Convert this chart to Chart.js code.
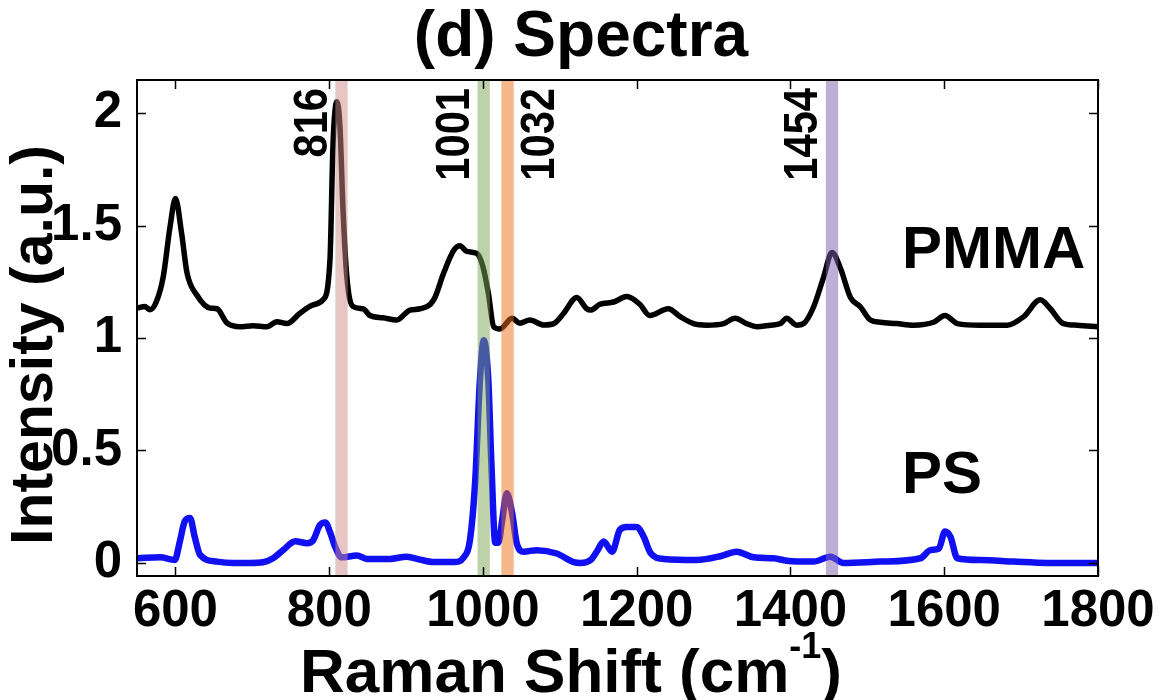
<!DOCTYPE html>
<html>
<head>
<meta charset="utf-8">
<title>Spectra</title>
<script src="https://cdn.jsdelivr.net/npm/chart.js@4.4.1/dist/chart.umd.min.js"></script>
<style>
  html, body { margin: 0; padding: 0; background: #ffffff; }
  #wrap { width: 1162px; height: 700px; }
</style>
</head>
<body>
<div id="wrap"><canvas id="spectra" width="1162" height="700"></canvas></div>
<script>
// Raman spectra (intensity in arbitrary units, PMMA offset by +1)
const pmmaShift = [551, 560, 567, 575, 584, 593, 600, 608, 615, 628, 645, 654, 667, 684, 701, 719, 732, 745, 762, 779,
  792, 801, 805, 810, 814, 818, 823, 831, 844, 853, 870, 888, 905, 918, 936, 949, 962, 970, 979, 992,
  1000, 1007, 1014, 1022, 1038, 1048, 1061, 1079, 1092, 1105, 1122, 1135, 1140, 1152, 1170, 1187, 1204, 1217, 1241, 1257,
  1274, 1291, 1313, 1328, 1343, 1356, 1374, 1387, 1395, 1408, 1417, 1430, 1443, 1454, 1465, 1478, 1491, 1504, 1517, 1538,
  1560, 1586, 1601, 1617, 1647, 1682, 1703, 1725, 1738, 1755, 1773, 1800];
const pmmaIntensity = [1.133, 1.14, 1.126, 1.16, 1.27, 1.495, 1.62, 1.466, 1.29, 1.19, 1.133, 1.13, 1.067, 1.05, 1.055, 1.05, 1.072, 1.064, 1.11, 1.147,
  1.17, 1.347, 1.865, 2.05, 1.94, 1.57, 1.27, 1.14, 1.13, 1.10, 1.09, 1.08, 1.124, 1.13, 1.17, 1.29, 1.39, 1.41, 1.385, 1.376,
  1.317, 1.2, 1.05, 1.04, 1.088, 1.066, 1.08, 1.058, 1.064, 1.11, 1.18, 1.13, 1.124, 1.15, 1.16, 1.184, 1.15, 1.10, 1.13, 1.094,
  1.064, 1.057, 1.064, 1.088, 1.064, 1.05, 1.057, 1.064, 1.088, 1.057, 1.064, 1.138, 1.27, 1.38, 1.31, 1.18, 1.138, 1.08, 1.07, 1.064,
  1.057, 1.07, 1.10, 1.064, 1.057, 1.057, 1.094, 1.17, 1.13, 1.064, 1.057, 1.05];

const psShift = [551, 580, 599, 606, 612, 619, 625, 632, 654, 675, 697, 714, 727, 740, 756, 771, 779, 788, 795, 801,
  808, 816, 836, 849, 879, 901, 918, 936, 962, 975, 983, 990, 996, 1001, 1007, 1011, 1016, 1020, 1025, 1031,
  1038, 1044, 1053, 1070, 1096, 1118, 1127, 1140, 1148, 1157, 1168, 1178, 1187, 1200, 1209, 1218, 1235, 1278, 1309, 1330,
  1352, 1378, 1395, 1430, 1452, 1469, 1517, 1569, 1582, 1593, 1601, 1608, 1617, 1647, 1690, 1734, 1800];
const psIntensity = [0.021, 0.025, 0.013, 0.10, 0.184, 0.2, 0.117, 0.036, 0.006, 0.0, 0.0, 0.003, 0.021, 0.057, 0.096, 0.088, 0.10, 0.169, 0.18, 0.138,
  0.07, 0.025, 0.033, 0.018, 0.018, 0.028, 0.015, 0.004, 0.004, 0.025, 0.10, 0.37, 0.81, 0.99, 0.81, 0.44, 0.09, 0.09, 0.19, 0.31,
  0.22, 0.087, 0.05, 0.057, 0.042, 0.004, 0.0, 0.013, 0.05, 0.095, 0.05, 0.147, 0.16, 0.16, 0.117, 0.044, 0.018, 0.013, 0.03, 0.05,
  0.025, 0.021, 0.01, 0.006, 0.028, 0.0, 0.006, 0.021, 0.057, 0.064, 0.14, 0.117, 0.021, 0.013, 0.006, 0.0, 0.0];

// Marked Raman bands
const bandShifts = [816, 1001, 1032, 1454];
const bandLabels = ['816', '1001', '1032', '1454'];

const xTicks = [600, 800, 1000, 1200, 1400, 1600, 1800];
const yTicks = [0, 0.5, 1, 1.5, 2];
const seriesNames = ['PMMA', 'PS'];

const SANS = "'Liberation Sans', Arial, sans-serif";

const toPoints = (xs, ys) => xs.map((x, i) => ({ x: x, y: ys[i] }));

// Translucent bands over the spectra, with rotated wavenumber labels
const bandPlugin = {
  id: 'bands',
  afterDatasetsDraw(chart, args, opts) {
    const { ctx, chartArea } = chart;
    const xs = chart.scales.x;
    ctx.save();
    ctx.beginPath();
    ctx.rect(chartArea.left, chartArea.top, chartArea.right - chartArea.left, chartArea.bottom - chartArea.top);
    ctx.clip();
    bandShifts.forEach((v, i) => {
      const x0 = xs.getPixelForValue(v - opts.halfWidth);
      const x1 = xs.getPixelForValue(v + opts.halfWidth);
      ctx.fillStyle = opts.colors[i];
      ctx.fillRect(x0, chartArea.top, x1 - x0, chartArea.bottom - chartArea.top);
    });
    ctx.restore();

    ctx.save();
    ctx.fillStyle = '#000';
    ctx.font = 'bold ' + opts.labelSize + 'px ' + SANS;
    ctx.textAlign = 'right';
    ctx.textBaseline = 'alphabetic';
    bandShifts.forEach((v, i) => {
      const xc = xs.getPixelForValue(v);
      const bx = opts.sides[i] === 'right' ? xc + opts.rightOffset : xc - opts.leftOffset;
      ctx.save();
      ctx.translate(bx, chartArea.top + opts.topGap);
      ctx.rotate(-Math.PI / 2);
      ctx.scale(opts.squeeze, 1);
      ctx.fillText(bandLabels[i], 0, 0);
      ctx.restore();
    });
    ctx.restore();
  }
};

// Box frame with inward tick marks on all four sides
const framePlugin = {
  id: 'frame',
  afterDraw(chart, args, opts) {
    const { ctx, chartArea } = chart;
    const { left, right, top, bottom } = chartArea;
    const xs = chart.scales.x, ys = chart.scales.y;
    ctx.save();
    ctx.strokeStyle = '#000';
    ctx.lineWidth = opts.tickWidth;
    ctx.beginPath();
    xTicks.forEach(v => {
      const px = Math.round(xs.getPixelForValue(v)) + 0.5;
      ctx.moveTo(px, bottom); ctx.lineTo(px, bottom - opts.tickLen);
      ctx.moveTo(px, top); ctx.lineTo(px, top + opts.tickLen);
    });
    yTicks.forEach(v => {
      const py = Math.round(ys.getPixelForValue(v)) + 0.5;
      ctx.moveTo(left, py); ctx.lineTo(left + opts.tickLen, py);
      ctx.moveTo(right, py); ctx.lineTo(right - opts.tickLen, py);
    });
    ctx.stroke();
    ctx.lineWidth = opts.frameWidth;
    ctx.strokeRect(left, top, right - left, bottom - top);
    ctx.restore();
  }
};

// Series names and the axis titles (x title carries a superscript unit)
const annotationPlugin = {
  id: 'annotations',
  afterDraw(chart, args, opts) {
    const { ctx } = chart;
    const xs = chart.scales.x, ys = chart.scales.y;
    ctx.save();
    ctx.fillStyle = '#000';
    ctx.textBaseline = 'alphabetic';
    ctx.textAlign = 'left';
    ctx.font = 'bold ' + opts.nameSize + 'px ' + SANS;
    opts.names.forEach((n, i) => {
      ctx.fillText(seriesNames[i], xs.getPixelForValue(n.x), ys.getPixelForValue(n.y));
    });

    // x-axis title
    const main = 'Raman Shift (cm', sup = '-1', close = ')';
    const mainFont = 'bold ' + opts.xTitleSize + 'px ' + SANS;
    const supFont = 'bold ' + opts.supSize + 'px ' + SANS;
    ctx.font = mainFont;
    const wMain = ctx.measureText(main).width;
    const wClose = ctx.measureText(close).width;
    ctx.font = supFont;
    const wSup = ctx.measureText(sup).width;
    const total = wMain + wSup + wClose;
    let x = chart.width / 2 + opts.xTitleShift - total / 2;
    const base = chart.height - opts.xTitleBottom;
    ctx.font = mainFont;
    ctx.fillText(main, x, base);
    x += wMain;
    ctx.font = supFont;
    ctx.fillText(sup, x, base - opts.supRaise);
    x += wSup;
    ctx.font = mainFont;
    ctx.fillText(close, x, base);

    // y-axis title
    ctx.save();
    ctx.font = 'bold ' + opts.yTitleSize + 'px ' + SANS;
    ctx.textAlign = 'center';
    ctx.textBaseline = 'middle';
    ctx.translate(opts.yTitleX, opts.yTitleY);
    ctx.rotate(-Math.PI / 2);
    ctx.fillText('Intensity (a.u.)', 0, 0);
    ctx.restore();
    ctx.restore();
  }
};

new Chart(document.getElementById('spectra'), {
  type: 'line',
  data: {
    datasets: [
      {
        label: seriesNames[0],
        data: toPoints(pmmaShift, pmmaIntensity),
        borderColor: '#000000',
        borderWidth: 5.5,
        pointRadius: 0,
        cubicInterpolationMode: 'monotone',
        fill: false
      },
      {
        label: seriesNames[1],
        data: toPoints(psShift, psIntensity),
        borderColor: '#1010f2',
        borderWidth: 6.5,
        pointRadius: 0,
        cubicInterpolationMode: 'monotone',
        fill: false
      }
    ]
  },
  options: {
    responsive: false,
    animation: false,
    devicePixelRatio: 1,
    layout: { padding: 0 },
    scales: {
      x: {
        type: 'linear',
        min: 550,
        max: 1800,
        grid: { display: false },
        border: { display: false },
        afterBuildTicks: s => { s.ticks = xTicks.map(v => ({ value: v })); },
        afterFit: s => { s.height = 124; },
        ticks: {
          color: '#000',
          padding: 2,
          maxRotation: 0,
          autoSkip: false,
          font: { family: SANS, size: 51, weight: 'bold', lineHeight: 1 },
          callback: v => String(v)
        }
      },
      y: {
        type: 'linear',
        min: -0.058,
        max: 2.147,
        grid: { display: false },
        border: { display: false },
        afterBuildTicks: s => { s.ticks = yTicks.map(v => ({ value: v })); },
        afterFit: s => { s.width = 137; },
        ticks: {
          color: '#000',
          padding: 7,
          autoSkip: false,
          font: { family: SANS, size: 51, weight: 'bold', lineHeight: 1 },
          callback: v => String(v)
        }
      },
      // empty right-hand margin so the title centres on the whole figure
      yRight: {
        type: 'linear',
        position: 'right',
        min: 0,
        max: 1,
        grid: { display: false },
        border: { display: false },
        ticks: { display: false },
        afterFit: s => { s.width = 64; }
      }
    },
    plugins: {
      legend: { display: false },
      tooltip: { enabled: false },
      title: {
        display: true,
        text: '(d) Spectra',
        color: '#000',
        padding: { top: 6, bottom: 10 },
        font: { family: SANS, size: 64, weight: 'bold', lineHeight: 1 }
      },
      bands: {
        halfWidth: 8,
        colors: ['rgba(210,140,140,0.5)', 'rgba(125,165,85,0.5)', 'rgba(235,110,20,0.5)', 'rgba(125,95,175,0.5)'],
        sides: ['left', 'left', 'right', 'left'],
        labelSize: 49,
        squeeze: 0.85,
        leftOffset: 15,
        rightOffset: 46,
        topGap: 8
      },
      frame: { tickLen: 9, tickWidth: 1.5, frameWidth: 2 },
      annotations: {
        names: [{ x: 1545, y: 1.31 }, { x: 1545, y: 0.31 }],
        nameSize: 60,
        xTitleSize: 62,
        supSize: 36,
        supRaise: 34,
        xTitleShift: -10,
        xTitleBottom: 8,
        yTitleSize: 59,
        yTitleX: 36,
        yTitleY: 345
      }
    }
  },
  plugins: [bandPlugin, framePlugin, annotationPlugin]
});
</script>
</body>
</html>
